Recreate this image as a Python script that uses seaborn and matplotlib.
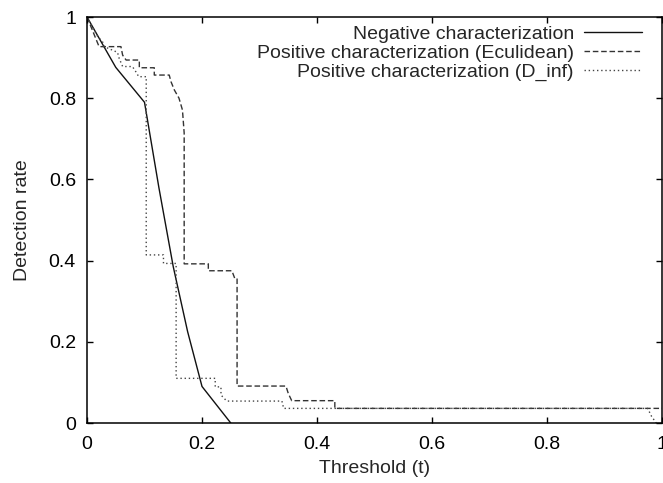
import matplotlib
matplotlib.use("Agg")
import matplotlib.pyplot as plt
import seaborn as sns
import pandas as pd

# --- data ---
neg_x = [0, 0.05, 0.10, 0.125, 0.15, 0.175, 0.20, 0.25]
neg_y = [1, 0.876, 0.79, 0.58, 0.385, 0.225, 0.09, 0]

euc_x = [0, 0.021, 0.059, 0.062, 0.068, 0.091, 0.091, 0.117, 0.117, 0.143, 0.146, 0.152,
         0.160, 0.166, 0.169, 0.169, 0.211, 0.211, 0.252, 0.257, 0.261, 0.261, 0.346,
         0.350, 0.356, 0.431, 0.431, 1.0]
euc_y = [1, 0.927, 0.927, 0.906, 0.894, 0.894, 0.875, 0.875, 0.857, 0.857, 0.841, 0.820,
         0.80, 0.771, 0.714, 0.392, 0.392, 0.375, 0.375, 0.356, 0.356, 0.091, 0.091,
         0.073, 0.055, 0.055, 0.036, 0.036]

dinf_x = [0, 0.019, 0.027, 0.030, 0.053, 0.056, 0.062, 0.079, 0.085, 0.090, 0.099, 0.103,
          0.103, 0.133, 0.133, 0.155, 0.155, 0.223, 0.223, 0.233, 0.233, 0.243, 0.339,
          0.342, 0.975, 0.982, 0.99]
dinf_y = [1, 0.951, 0.939, 0.927, 0.913, 0.898, 0.878, 0.878, 0.865, 0.853, 0.853, 0.853,
          0.414, 0.414, 0.393, 0.393, 0.110, 0.110, 0.089, 0.089, 0.069, 0.054, 0.054,
          0.036, 0.036, 0.016, 0]

labels = ["Negative characterization",
          "Positive characterization (Eculidean)",
          "Positive characterization (D_inf)"]
ticks = [0, 0.2, 0.4, 0.6, 0.8, 1]
tick_labels = ["0", "0.2", "0.4", "0.6", "0.8", "1"]

sns.set_theme(style="ticks")
plt.rcParams["font.family"] = ["Liberation Sans", "DejaVu Sans"]

fig = plt.figure(figsize=(6.63, 4.83), dpi=100)
ax = fig.add_axes([87 / 663, 1 - 423 / 483, 575 / 663, 406 / 483])

series = [
    (neg_x, neg_y, labels[0], "#111111", "-"),
    (euc_x, euc_y, labels[1], "#333333", (0, (4, 2))),
    (dinf_x, dinf_y, labels[2], "#444444", (0, (1, 2))),
]
for xs, ys, lab, col, ls in series:
    df = pd.DataFrame({"x": xs, "y": ys})
    sns.lineplot(data=df, x="x", y="y", estimator=None, sort=False, ax=ax,
                 color=col, linestyle=ls, linewidth=1.0, label=lab)

ax.set_xlim(0, 1)
ax.set_ylim(0, 1)
ax.set_xticks(ticks)
ax.set_xticklabels(tick_labels)
ax.set_yticks(ticks)
ax.set_yticklabels(tick_labels)
ax.tick_params(direction="in", top=True, right=True, length=4.5, width=1.0,
               labelsize=14, colors="black")
ax.tick_params(axis="x", pad=9.5)
ax.tick_params(axis="y", pad=8)
for s in ax.spines.values():
    s.set_linewidth(1.1)
    s.set_color("black")

ax.set_xlabel("Threshold (t)", fontsize=14, labelpad=5)
ax.set_ylabel("Detection rate", fontsize=14, labelpad=13)

leg = ax.legend(loc="upper right", bbox_to_anchor=(0.965, 0.98), frameon=False,
                markerfirst=False, fontsize=14, handlelength=3.0, handletextpad=0.5,
                labelspacing=0.08, borderpad=0, borderaxespad=0)

fig.savefig("out.png", dpi=100)
